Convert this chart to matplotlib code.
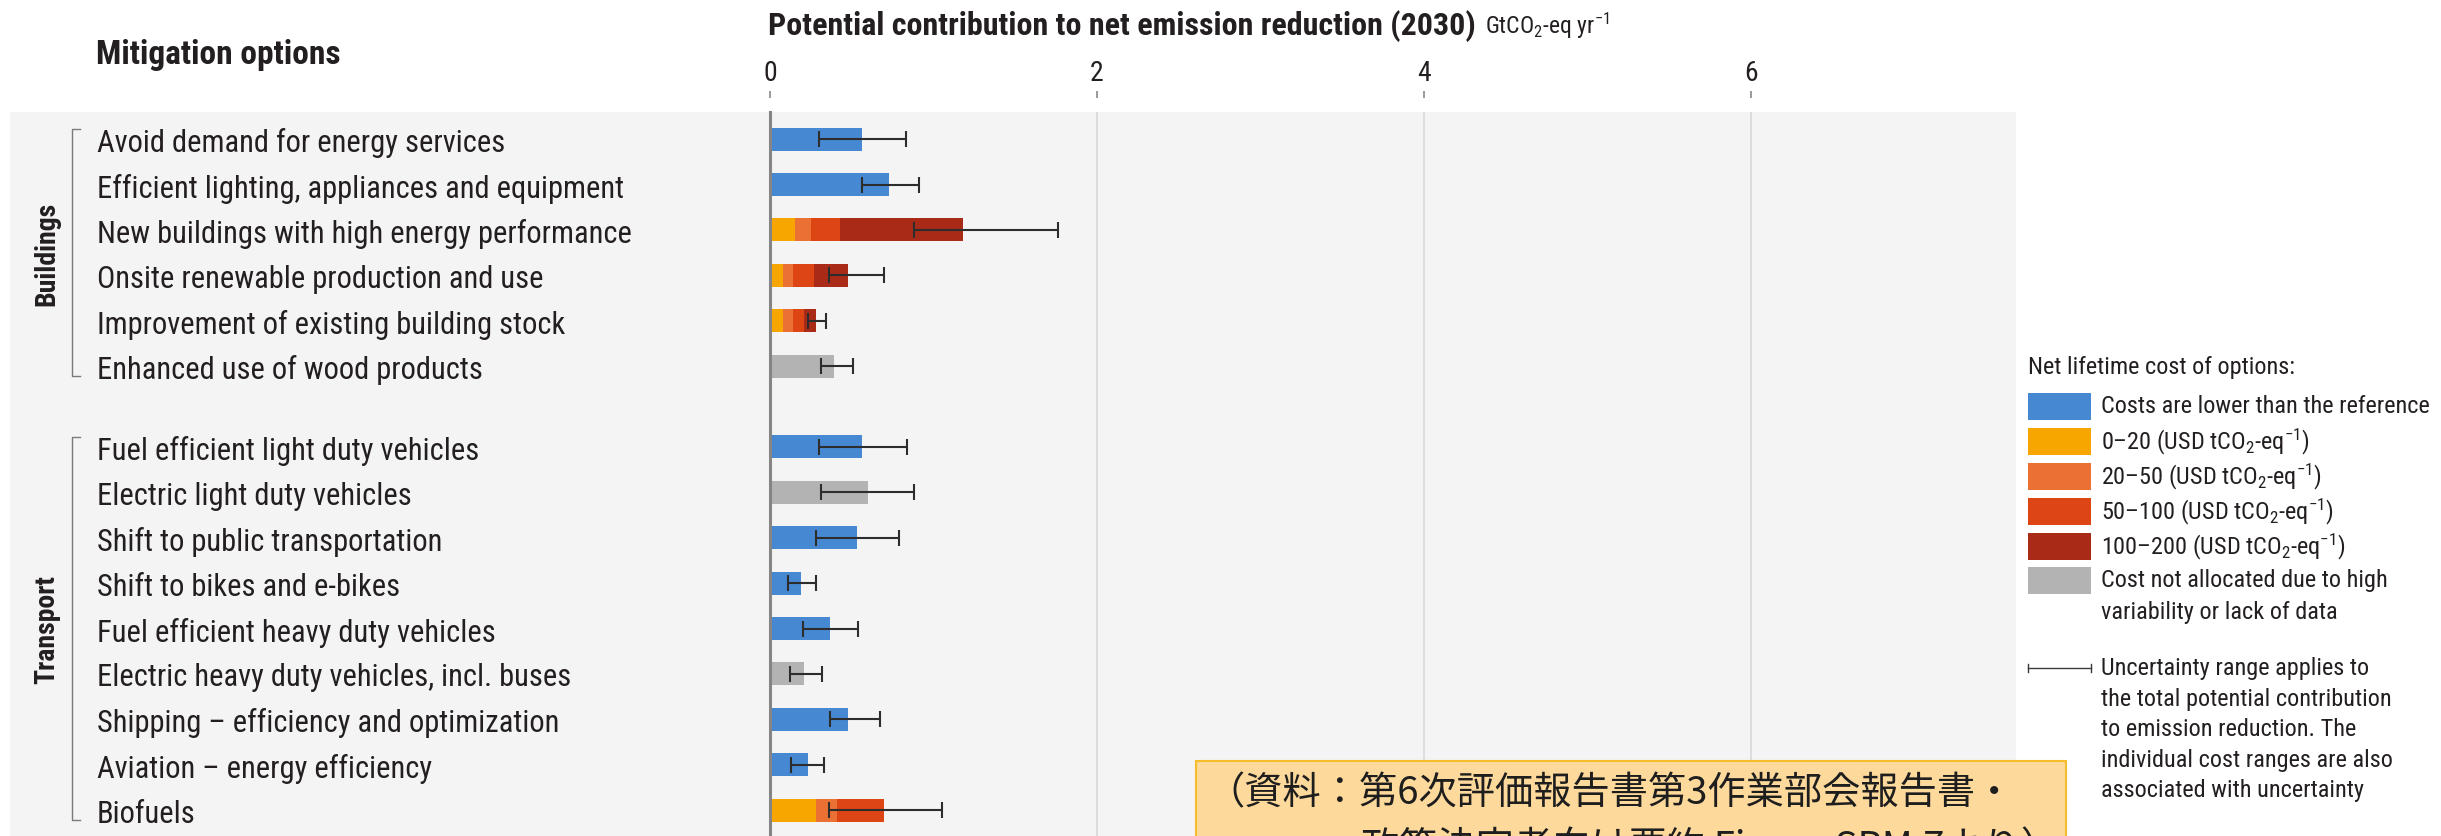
import numpy as np
import matplotlib
matplotlib.use("Agg")
import matplotlib.pyplot as plt
from matplotlib import font_manager
from matplotlib.patches import Rectangle
from matplotlib.lines import Line2D
from matplotlib.transforms import blended_transform_factory

# ---------------------------------------------------------------- data
buildings_options = [
    "Avoid demand for energy services",
    "Efficient lighting, appliances and equipment",
    "New buildings with high energy performance",
    "Onsite renewable production and use",
    "Improvement of existing building stock",
    "Enhanced use of wood products",
]
transport_options = [
    "Fuel efficient light duty vehicles",
    "Electric light duty vehicles",
    "Shift to public transportation",
    "Shift to bikes and e-bikes",
    "Fuel efficient heavy duty vehicles",
    "Electric heavy duty vehicles, incl. buses",
    "Shipping \u2013 efficiency and optimization",
    "Aviation \u2013 energy efficiency",
    "Biofuels",
]

# cost bands (stacking order)
band_names = ["lower", "0-20", "20-50", "50-100", "100-200", "n/a"]

# contribution of each cost band, GtCO2-eq/yr (one list per band)
buildings_lower = [0.56, 0.73, 0.00, 0.00, 0.00, 0.00]
buildings_0_20 = [0.00, 0.00, 0.15, 0.08, 0.08, 0.00]
buildings_20_50 = [0.00, 0.00, 0.10, 0.06, 0.06, 0.00]
buildings_50_100 = [0.00, 0.00, 0.18, 0.13, 0.07, 0.00]
buildings_100_200 = [0.00, 0.00, 0.75, 0.21, 0.07, 0.00]
buildings_na = [0.00, 0.00, 0.00, 0.00, 0.00, 0.39]
buildings_err_low = [0.30, 0.56, 0.88, 0.36, 0.23, 0.31]
buildings_err_high = [0.83, 0.91, 1.76, 0.70, 0.34, 0.51]

transport_lower = [0.56, 0.00, 0.53, 0.19, 0.37, 0.00, 0.48, 0.23, 0.00]
transport_0_20 = [0.00, 0.00, 0.00, 0.00, 0.00, 0.00, 0.00, 0.00, 0.28]
transport_20_50 = [0.00, 0.00, 0.00, 0.00, 0.00, 0.00, 0.00, 0.00, 0.13]
transport_50_100 = [0.00, 0.00, 0.00, 0.00, 0.00, 0.00, 0.00, 0.00, 0.29]
transport_100_200 = [0.00, 0.00, 0.00, 0.00, 0.00, 0.00, 0.00, 0.00, 0.00]
transport_na = [0.00, 0.60, 0.00, 0.00, 0.00, 0.21, 0.00, 0.00, 0.00]
transport_err_low = [0.30, 0.31, 0.28, 0.11, 0.20, 0.12, 0.37, 0.13, 0.36]
transport_err_high = [0.84, 0.88, 0.79, 0.28, 0.54, 0.32, 0.67, 0.33, 1.05]

x_ticks = [0, 2, 4, 6]
x_ticklabels = ["0", "2", "4", "6"]

legend_labels = [
    "Costs are lower than the reference",
    "0\u201320 (USD tCO$_2$-eq$^{-1}$)",
    "20\u201350 (USD tCO$_2$-eq$^{-1}$)",
    "50\u2013100 (USD tCO$_2$-eq$^{-1}$)",
    "100\u2013200 (USD tCO$_2$-eq$^{-1}$)",
    "Cost not allocated due to high\nvariability or lack of data",
]
uncertainty_lines = [
    "Uncertainty range applies to",
    "the total potential contribution",
    "to emission reduction. The",
    "individual cost ranges are also",
    "associated with uncertainty",
]
source_note = [
    "\uff08\u8cc7\u6599\uff1a\u7b2c6\u6b21\u8a55\u4fa1\u5831\u544a\u66f8\u7b2c3\u4f5c\u696d\u90e8\u4f1a\u5831\u544a\u66f8\u30fb",
    "\u653f\u7b56\u6c7a\u5b9a\u8005\u5411\u3051\u8981\u7d04 Figure SPM.7\u3088\u308a\uff09",
]

# ---------------------------------------------------------------- style
band_colors = ["#4688d2", "#f7a600", "#ea7034", "#dd4515", "#a92b17", "#b3b3b3"]
text_color = "#231f20"
panel_color = "#f4f4f4"

available = {f.name for f in font_manager.fontManager.ttflist}
BASE = "DejaVu Sans"
for name in ["Liberation Sans Narrow", "Roboto Condensed", "Open Sans Condensed", "DejaVu Sans"]:
    if name in available:
        BASE = name
        break
plt.rcParams["font.family"] = [BASE, "DejaVu Sans"]
plt.rcParams["mathtext.fontset"] = "custom"
plt.rcParams["mathtext.rm"] = BASE
plt.rcParams["mathtext.it"] = BASE + ":italic"
plt.rcParams["mathtext.bf"] = BASE + ":bold"

W, H, DPI = 2441, 837, 100


def fx(px):
    return px / W


def fy(py):
    return 1 - py / H


fig = plt.figure(figsize=(W / DPI, H / DPI), dpi=DPI, facecolor="white")

# grey panel behind the option list and the bars
fig.patches.append(Rectangle((fx(10), fy(H + 20)), fx(2016) - fx(10), (H + 20 - 113) / H,
                             transform=fig.transFigure, facecolor=panel_color,
                             edgecolor="none", zorder=-1))

# axes: x=0 at px 770, 163.5 px per unit
x0_px, unit_px = 770, 163.5
ax_left, ax_right = 770, 2016
ax = fig.add_axes([fx(ax_left), 0, (ax_right - ax_left) / W, (H - 113) / H])
ax.set_facecolor("none")
ax.set_xlim(0, (ax_right - x0_px) / unit_px)

row_px = 45.4
gap_rows = 1.78
y_build = np.arange(len(buildings_options), dtype=float)
y_trans = y_build[-1] + gap_rows + np.arange(len(transport_options))
top_lim = -(140.1 - 113) / row_px
bot_lim = (H - 140.1) / row_px
ax.set_ylim(bot_lim, top_lim)

bar_h = 0.51
ypos = np.concatenate([y_build, y_trans])
bands = [
    buildings_lower + transport_lower,
    buildings_0_20 + transport_0_20,
    buildings_20_50 + transport_20_50,
    buildings_50_100 + transport_50_100,
    buildings_100_200 + transport_100_200,
    buildings_na + transport_na,
]
left = np.zeros(len(ypos))
for vals, col in zip(bands, band_colors):
    vals = np.array(vals)
    ax.barh(ypos, vals, left=left, height=bar_h, color=col, edgecolor="none", zorder=2)
    left += vals

totals = left
err_low = np.array(buildings_err_low + transport_err_low)
err_high = np.array(buildings_err_high + transport_err_high)
ax.errorbar(totals, ypos, xerr=[totals - err_low, err_high - totals], fmt="none",
            ecolor="#2d2d2d", elinewidth=1.5, capsize=6, capthick=1.5, zorder=3)

# axis styling
for side in ["right", "bottom"]:
    ax.spines[side].set_visible(False)
ax.spines["left"].set_color("#858585")
ax.spines["left"].set_linewidth(2.2)
ax.spines["left"].set_zorder(4)
ax.spines["top"].set_position(("outward", 10.0))
ax.spines["top"].set_visible(False)

ax.xaxis.tick_top()
ax.set_xticks(x_ticks)
ax.set_xticklabels(x_ticklabels)
ax.tick_params(axis="x", direction="out", length=5, width=1.4, color="#9a9a9a",
               labelsize=20, labelcolor=text_color, pad=4)
ax.xaxis.grid(True, color="#d6d6d6", linewidth=1.1)
ax.set_axisbelow(True)

ax.set_yticks(ypos)
ax.set_yticklabels(buildings_options + transport_options, ha="left")
ax.tick_params(axis="y", length=0, labelsize=22, labelcolor=text_color,
               pad=(x0_px - 97) * 0.72)

# sector brackets and names
btr = blended_transform_factory(fig.transFigure, ax.transData)
for name, ys in [("Buildings", y_build), ("Transport", y_trans)]:
    top, bot = ys[0] - 0.22, ys[-1] + 0.22
    ax.add_line(Line2D([fx(80), fx(72), fx(72), fx(80)], [top, top, bot, bot],
                       transform=btr, color="#7a7a7a", lw=1.0, clip_on=False))
    ax.text(fx(47), (ys[0] + ys[-1]) / 2, name, transform=btr, rotation=90,
            ha="center", va="center", fontsize=20, fontweight="bold", color=text_color)

# headers
fig.text(fx(96), fy(55), "Mitigation options", fontsize=24, fontweight="bold",
         color=text_color, ha="left", va="center")
t1 = fig.text(fx(768), fy(26), "Potential contribution to net emission reduction (2030)",
              fontsize=23, fontweight="bold", color=text_color, ha="left", va="center")
renderer = fig.canvas.get_renderer()
bb = t1.get_window_extent(renderer)
fig.text(bb.x1 / W + fx(9), fy(26), r"GtCO$_2$-eq yr$^{-1}$", fontsize=17,
         color=text_color, ha="left", va="center")

# legend
LS = 17.5
fig.text(fx(2028), fy(368), "Net lifetime cost of options:", fontsize=LS,
         color=text_color, ha="left", va="center")
sw_centers = [407, 442, 477, 512, 547, 581]
for c, col, lab in zip(sw_centers, band_colors, legend_labels):
    fig.patches.append(Rectangle((fx(2028), fy(c + 13.5)), 63 / W, 27 / H,
                                 transform=fig.transFigure, facecolor=col,
                                 edgecolor="none", zorder=3))
    lines = lab.split("\n")
    for i, ln in enumerate(lines):
        fig.text(fx(2101), fy(c + i * 32), ln, fontsize=LS, color=text_color,
                 ha="left", va="center")
fig.add_artist(Line2D([fx(2028), fx(2091)], [fy(669), fy(669)], color="#3a3a3a", lw=1.0))
for xe in (2028, 2091):
    fig.add_artist(Line2D([fx(xe), fx(xe)], [fy(665), fy(673)], color="#3a3a3a", lw=1.0))
for i, ln in enumerate(uncertainty_lines):
    fig.text(fx(2101), fy(669 + i * 30.4), ln, fontsize=LS, color=text_color,
             ha="left", va="center")

# source note box
fig.patches.append(Rectangle((fx(1196), fy(H + 40)), (2066 - 1196) / W, (H + 40 - 762) / H,
                             transform=fig.transFigure, facecolor="#fdd99b",
                             edgecolor="#f5bd2a", linewidth=1.5, zorder=5))
cjk = ["Noto Sans CJK JP", "DejaVu Sans"]
fig.text(fx(1206), fy(794), source_note[0], family=cjk, fontsize=27.5, color="#1e1e1e",
         ha="left", va="center", zorder=6)
fig.text(fx(1361), fy(847), source_note[1], family=cjk, fontsize=27.5, color="#1e1e1e",
         ha="left", va="center", zorder=6)

fig.savefig("out.png", dpi=DPI, facecolor="white")
